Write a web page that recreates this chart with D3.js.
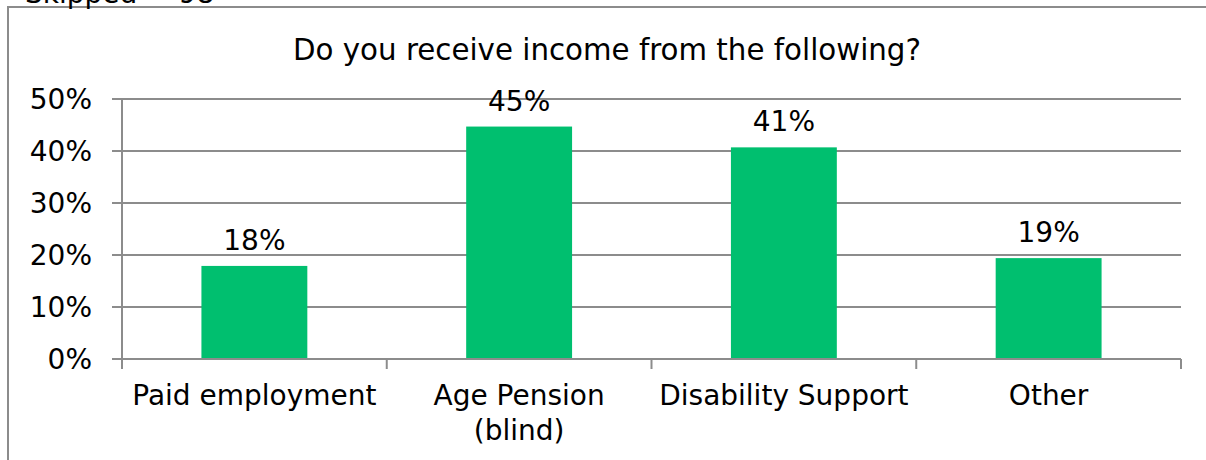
<!DOCTYPE html>
<html>
<head>
<meta charset="utf-8">
<script src="https://d3js.org/d3.v7.min.js"></script>
<style>
  body { margin: 0; background: #fff; }
  text { font-family: "DejaVu Sans", Verdana, sans-serif; fill: #000; }
</style>
</head>
<body>
<div id="chart"></div>
<script>
var categories = [["Paid employment"], ["Age Pension", "(blind)"], ["Disability Support"], ["Other"]];
var values = [17.9, 44.7, 40.7, 19.4];
var barLabels = ["18%", "45%", "41%", "19%"];
var yTicks = [0, 10, 20, 30, 40, 50];
var title = "Do you receive income from the following?";
var note = "Skipped = 98";

var w = 1206, h = 460;
var fontSize = 28;
var gridColor = "#8c8c8c";
var barColor = "#00bf6f";

var svg = d3.select("#chart")
  .append("svg")
  .attr("width", w)
  .attr("height", h);

// outer chart frame
svg.append("rect")
  .attr("x", 8)
  .attr("y", 7)
  .attr("width", w + 10)
  .attr("height", h)
  .attr("fill", "none")
  .attr("stroke", gridColor)
  .attr("stroke-width", 2);

// note sits above the frame, partly cut off like the original
svg.append("text")
  .attr("x", 25)
  .attr("y", 3)
  .attr("font-size", fontSize + "px")
  .text(note);

svg.append("text")
  .attr("x", 607)
  .attr("y", 60)
  .attr("text-anchor", "middle")
  .attr("font-size", "29.3px")
  .text(title);

var xScale = d3.scaleBand()
  .domain(d3.range(categories.length))
  .range([122, 1181])
  .paddingInner(0.6)
  .paddingOuter(0.3);

var yScale = d3.scaleLinear()
  .domain([0, 50])
  .range([359, 99]);

// gridlines + left ticks
svg.selectAll("line.grid")
  .data(yTicks)
  .enter()
  .append("line")
  .attr("class", "grid")
  .attr("x1", 112)
  .attr("x2", 1181)
  .attr("y1", function(d) { return yScale(d); })
  .attr("y2", function(d) { return yScale(d); })
  .attr("stroke", gridColor)
  .attr("stroke-width", 2);

svg.selectAll("text.ytick")
  .data(yTicks)
  .enter()
  .append("text")
  .attr("class", "ytick")
  .attr("x", 92)
  .attr("y", function(d) { return yScale(d); })
  .attr("dy", "0.36em")
  .attr("text-anchor", "end")
  .attr("font-size", fontSize + "px")
  .text(function(d) { return d + "%"; });

// y axis line
svg.append("line")
  .attr("x1", 122).attr("x2", 122)
  .attr("y1", yScale(50)).attr("y2", yScale(0) + 10)
  .attr("stroke", gridColor)
  .attr("stroke-width", 2);

// category boundary ticks
var step = (1181 - 122) / categories.length;
svg.selectAll("line.xtick")
  .data(d3.range(categories.length + 1))
  .enter()
  .append("line")
  .attr("class", "xtick")
  .attr("x1", function(d) { return 122 + d * step; })
  .attr("x2", function(d) { return 122 + d * step; })
  .attr("y1", yScale(0))
  .attr("y2", yScale(0) + 10)
  .attr("stroke", gridColor)
  .attr("stroke-width", 2);

svg.selectAll("rect.bar")
  .data(values)
  .enter()
  .append("rect")
  .attr("class", "bar")
  .attr("x", function(d, i) { return xScale(i); })
  .attr("y", function(d) { return yScale(d); })
  .attr("width", xScale.bandwidth())
  .attr("height", function(d) { return yScale(0) - yScale(d); })
  .attr("fill", barColor);

// redraw the baseline over the bars
svg.append("line")
  .attr("x1", 122).attr("x2", 1181)
  .attr("y1", yScale(0)).attr("y2", yScale(0))
  .attr("stroke", gridColor)
  .attr("stroke-width", 2);

svg.selectAll("text.barlabel")
  .data(values)
  .enter()
  .append("text")
  .attr("class", "barlabel")
  .attr("x", function(d, i) { return xScale(i) + xScale.bandwidth() / 2; })
  .attr("y", function(d) { return yScale(d) - 16; })
  .attr("text-anchor", "middle")
  .attr("font-size", fontSize + "px")
  .text(function(d, i) { return barLabels[i]; });

var catLabels = svg.selectAll("text.cat")
  .data(categories)
  .enter()
  .append("text")
  .attr("class", "cat")
  .attr("text-anchor", "middle")
  .attr("font-size", fontSize + "px")
  .attr("x", function(d, i) { return xScale(i) + xScale.bandwidth() / 2; })
  .attr("y", 405);

catLabels.selectAll("tspan")
  .data(function(d) { return d; })
  .enter()
  .append("tspan")
  .attr("x", function() { return d3.select(this.parentNode).attr("x"); })
  .attr("dy", function(d, i) { return i === 0 ? 0 : 35; })
  .text(function(d) { return d; });
</script>
</body>
</html>
